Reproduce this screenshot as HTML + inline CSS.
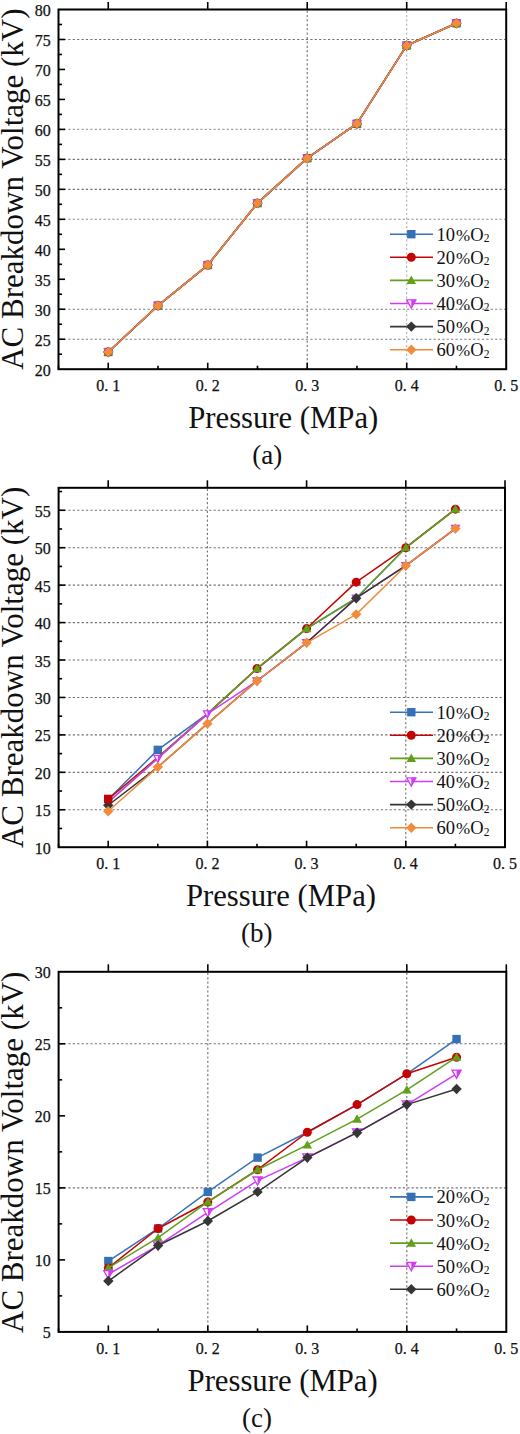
<!DOCTYPE html>
<html><head><meta charset="utf-8"><title>chart</title>
<style>html,body{margin:0;padding:0;background:#fff;}body{width:520px;height:1434px;overflow:hidden;font-family:"Liberation Serif", serif;}svg{display:block;}</style>
</head><body>
<svg width="520" height="1434" viewBox="0 0 520 1434" font-family='"Liberation Serif", serif'>
<rect width="520" height="1434" fill="#fff"/>
<line x1="59.5" y1="39.48" x2="505.2" y2="39.48" stroke="#707070" stroke-width="1.1" stroke-dasharray="2.2 2.2"/>
<line x1="59.5" y1="129.4" x2="505.2" y2="129.4" stroke="#a0a0a0" stroke-width="1.1" stroke-dasharray="2.2 2.2"/>
<line x1="59.5" y1="159.37" x2="505.2" y2="159.37" stroke="#707070" stroke-width="1.1" stroke-dasharray="2.2 2.2"/>
<line x1="59.5" y1="189.35" x2="505.2" y2="189.35" stroke="#707070" stroke-width="1.1" stroke-dasharray="2.2 2.2"/>
<line x1="59.5" y1="219.32" x2="505.2" y2="219.32" stroke="#8a8a8a" stroke-width="1.1" stroke-dasharray="2.2 2.2"/>
<line x1="59.5" y1="309.25" x2="505.2" y2="309.25" stroke="#7c7c7c" stroke-width="1.1" stroke-dasharray="2.2 2.2"/>
<line x1="59.5" y1="339.22" x2="505.2" y2="339.22" stroke="#7c7c7c" stroke-width="1.1" stroke-dasharray="2.2 2.2"/>
<line x1="307.22" y1="10.5" x2="307.22" y2="368.2" stroke="#707070" stroke-width="1.1" stroke-dasharray="2.2 2.2"/>
<line x1="406.71" y1="10.5" x2="406.71" y2="368.2" stroke="#b4b4b4" stroke-width="1.1" stroke-dasharray="2.2 2.2"/>
<line x1="390" y1="234.2" x2="433" y2="234.2" stroke="#3572b5" stroke-width="1.6"/>
<rect x="407.1" y="230" width="8.4" height="8.4" fill="#3572b5"/>
<text x="436.4" y="240.7" font-size="18.5" fill="#111">10<tspan dx="1.2" font-size="17">%</tspan><tspan dx="0">O</tspan><tspan font-size="11.5" dy="1.4">2</tspan></text>
<line x1="390" y1="257.3" x2="433" y2="257.3" stroke="#c40404" stroke-width="1.6"/>
<circle cx="411.3" cy="257.3" r="4.5" fill="#c40404"/>
<text x="436.4" y="263.8" font-size="18.5" fill="#111">20<tspan dx="1.2" font-size="17">%</tspan><tspan dx="0">O</tspan><tspan font-size="11.5" dy="1.4">2</tspan></text>
<line x1="390" y1="280.4" x2="433" y2="280.4" stroke="#62a01c" stroke-width="1.6"/>
<path d="M411.3 275.6L416.1 284L406.5 284Z" fill="#62a01c"/>
<text x="436.4" y="286.9" font-size="18.5" fill="#111">30<tspan dx="1.2" font-size="17">%</tspan><tspan dx="0">O</tspan><tspan font-size="11.5" dy="1.4">2</tspan></text>
<line x1="390" y1="303.5" x2="433" y2="303.5" stroke="#d03cf5" stroke-width="1.6"/>
<path d="M406.7 299.82L415.9 299.82L411.3 308.1Z" fill="#fff" stroke="#d03cf5" stroke-width="1.3"/><path d="M411.3 299.82L415.9 299.82L411.3 308.1Z" fill="#d03cf5"/>
<text x="436.4" y="310" font-size="18.5" fill="#111">40<tspan dx="1.2" font-size="17">%</tspan><tspan dx="0">O</tspan><tspan font-size="11.5" dy="1.4">2</tspan></text>
<line x1="390" y1="326.6" x2="433" y2="326.6" stroke="#363636" stroke-width="1.6"/>
<path d="M411.3 321.4L416.5 326.6L411.3 331.8L406.1 326.6Z" fill="#363636"/>
<text x="436.4" y="333.1" font-size="18.5" fill="#111">50<tspan dx="1.2" font-size="17">%</tspan><tspan dx="0">O</tspan><tspan font-size="11.5" dy="1.4">2</tspan></text>
<line x1="390" y1="349.7" x2="433" y2="349.7" stroke="#f08c3c" stroke-width="1.6"/>
<path d="M411.3 344.5L416.5 349.7L411.3 354.9L406.1 349.7Z" fill="#f08c3c"/>
<text x="436.4" y="356.2" font-size="18.5" fill="#111">60<tspan dx="1.2" font-size="17">%</tspan><tspan dx="0">O</tspan><tspan font-size="11.5" dy="1.4">2</tspan></text>
<polyline points="108.24,351.99 157.99,305.65 207.73,265.07 257.48,203.14 307.22,158.18 356.97,123.7 406.71,45.47 456.46,23.29" fill="none" stroke="#3572b5" stroke-width="1.5" stroke-linejoin="round"/>
<rect x="104.04" y="347.79" width="8.4" height="8.4" fill="#3572b5"/>
<rect x="153.79" y="301.45" width="8.4" height="8.4" fill="#3572b5"/>
<rect x="203.53" y="260.87" width="8.4" height="8.4" fill="#3572b5"/>
<rect x="253.28" y="198.94" width="8.4" height="8.4" fill="#3572b5"/>
<rect x="303.02" y="153.98" width="8.4" height="8.4" fill="#3572b5"/>
<rect x="352.77" y="119.5" width="8.4" height="8.4" fill="#3572b5"/>
<rect x="402.51" y="41.27" width="8.4" height="8.4" fill="#3572b5"/>
<rect x="452.26" y="19.09" width="8.4" height="8.4" fill="#3572b5"/>
<polyline points="108.24,351.99 157.99,305.65 207.73,265.07 257.48,203.14 307.22,158.18 356.97,123.7 406.71,45.47 456.46,23.29" fill="none" stroke="#c40404" stroke-width="1.5" stroke-linejoin="round"/>
<circle cx="108.24" cy="351.99" r="4.5" fill="#c40404"/>
<circle cx="157.99" cy="305.65" r="4.5" fill="#c40404"/>
<circle cx="207.73" cy="265.07" r="4.5" fill="#c40404"/>
<circle cx="257.48" cy="203.14" r="4.5" fill="#c40404"/>
<circle cx="307.22" cy="158.18" r="4.5" fill="#c40404"/>
<circle cx="356.97" cy="123.7" r="4.5" fill="#c40404"/>
<circle cx="406.71" cy="45.47" r="4.5" fill="#c40404"/>
<circle cx="456.46" cy="23.29" r="4.5" fill="#c40404"/>
<polyline points="108.24,351.99 157.99,305.65 207.73,265.07 257.48,203.14 307.22,158.18 356.97,123.7 406.71,45.47 456.46,23.29" fill="none" stroke="#62a01c" stroke-width="1.5" stroke-linejoin="round"/>
<path d="M108.24 347.19L113.04 355.59L103.44 355.59Z" fill="#62a01c"/>
<path d="M157.99 300.85L162.79 309.25L153.19 309.25Z" fill="#62a01c"/>
<path d="M207.73 260.27L212.53 268.67L202.93 268.67Z" fill="#62a01c"/>
<path d="M257.48 198.34L262.28 206.74L252.68 206.74Z" fill="#62a01c"/>
<path d="M307.22 153.38L312.02 161.78L302.42 161.78Z" fill="#62a01c"/>
<path d="M356.97 118.9L361.77 127.3L352.17 127.3Z" fill="#62a01c"/>
<path d="M406.71 40.67L411.51 49.07L401.91 49.07Z" fill="#62a01c"/>
<path d="M456.46 18.49L461.26 26.89L451.66 26.89Z" fill="#62a01c"/>
<polyline points="108.24,351.99 157.99,305.65 207.73,265.07 257.48,203.14 307.22,158.18 356.97,123.7 406.71,45.47 456.46,23.29" fill="none" stroke="#d03cf5" stroke-width="1.5" stroke-linejoin="round"/>
<path d="M104.33 348.87L112.15 348.87L108.24 355.9Z" fill="#fff" stroke="#d03cf5" stroke-width="1.3"/><path d="M108.24 348.87L112.15 348.87L108.24 355.9Z" fill="#d03cf5"/>
<path d="M154.08 302.52L161.9 302.52L157.99 309.56Z" fill="#fff" stroke="#d03cf5" stroke-width="1.3"/><path d="M157.99 302.52L161.9 302.52L157.99 309.56Z" fill="#d03cf5"/>
<path d="M203.82 261.94L211.64 261.94L207.73 268.98Z" fill="#fff" stroke="#d03cf5" stroke-width="1.3"/><path d="M207.73 261.94L211.64 261.94L207.73 268.98Z" fill="#d03cf5"/>
<path d="M253.57 200.01L261.39 200.01L257.48 207.05Z" fill="#fff" stroke="#d03cf5" stroke-width="1.3"/><path d="M257.48 200.01L261.39 200.01L257.48 207.05Z" fill="#d03cf5"/>
<path d="M303.31 155.05L311.13 155.05L307.22 162.09Z" fill="#fff" stroke="#d03cf5" stroke-width="1.3"/><path d="M307.22 155.05L311.13 155.05L307.22 162.09Z" fill="#d03cf5"/>
<path d="M353.06 120.58L360.88 120.58L356.97 127.61Z" fill="#fff" stroke="#d03cf5" stroke-width="1.3"/><path d="M356.97 120.58L360.88 120.58L356.97 127.61Z" fill="#d03cf5"/>
<path d="M402.8 42.34L410.62 42.34L406.71 49.38Z" fill="#fff" stroke="#d03cf5" stroke-width="1.3"/><path d="M406.71 42.34L410.62 42.34L406.71 49.38Z" fill="#d03cf5"/>
<path d="M452.55 20.16L460.37 20.16L456.46 27.2Z" fill="#fff" stroke="#d03cf5" stroke-width="1.3"/><path d="M456.46 20.16L460.37 20.16L456.46 27.2Z" fill="#d03cf5"/>
<polyline points="108.24,351.99 157.99,305.65 207.73,265.07 257.48,203.14 307.22,158.18 356.97,123.7 406.71,45.47 456.46,23.29" fill="none" stroke="#363636" stroke-width="1.5" stroke-linejoin="round"/>
<path d="M108.24 346.79L113.44 351.99L108.24 357.19L103.04 351.99Z" fill="#363636"/>
<path d="M157.99 300.45L163.19 305.65L157.99 310.85L152.79 305.65Z" fill="#363636"/>
<path d="M207.73 259.87L212.93 265.07L207.73 270.27L202.53 265.07Z" fill="#363636"/>
<path d="M257.48 197.94L262.68 203.14L257.48 208.34L252.28 203.14Z" fill="#363636"/>
<path d="M307.22 152.98L312.42 158.18L307.22 163.38L302.02 158.18Z" fill="#363636"/>
<path d="M356.97 118.5L362.17 123.7L356.97 128.9L351.77 123.7Z" fill="#363636"/>
<path d="M406.71 40.27L411.91 45.47L406.71 50.67L401.51 45.47Z" fill="#363636"/>
<path d="M456.46 18.09L461.66 23.29L456.46 28.49L451.26 23.29Z" fill="#363636"/>
<polyline points="108.24,351.99 157.99,305.65 207.73,265.07 257.48,203.14 307.22,158.18 356.97,123.7 406.71,45.47 456.46,23.29" fill="none" stroke="#f08c3c" stroke-width="1.5" stroke-linejoin="round"/>
<path d="M108.24 346.79L113.44 351.99L108.24 357.19L103.04 351.99Z" fill="#f08c3c"/>
<path d="M157.99 300.45L163.19 305.65L157.99 310.85L152.79 305.65Z" fill="#f08c3c"/>
<path d="M207.73 259.87L212.93 265.07L207.73 270.27L202.53 265.07Z" fill="#f08c3c"/>
<path d="M257.48 197.94L262.68 203.14L257.48 208.34L252.28 203.14Z" fill="#f08c3c"/>
<path d="M307.22 152.98L312.42 158.18L307.22 163.38L302.02 158.18Z" fill="#f08c3c"/>
<path d="M356.97 118.5L362.17 123.7L356.97 128.9L351.77 123.7Z" fill="#f08c3c"/>
<path d="M406.71 40.27L411.91 45.47L406.71 50.67L401.51 45.47Z" fill="#f08c3c"/>
<path d="M456.46 18.09L461.66 23.29L456.46 28.49L451.26 23.29Z" fill="#f08c3c"/>
<rect x="58.5" y="9.5" width="447.7" height="359.7" fill="none" stroke="#000" stroke-width="2"/>
<text x="50.8" y="375.7" font-size="16" text-anchor="end" fill="#111" stroke="#111" stroke-width="0.25">20</text>
<line x1="58.5" y1="354.21" x2="62" y2="354.21" stroke="#000" stroke-width="1.6"/>
<line x1="58.5" y1="339.22" x2="65" y2="339.22" stroke="#000" stroke-width="1.6"/>
<text x="50.8" y="345.72" font-size="16" text-anchor="end" fill="#111" stroke="#111" stroke-width="0.25">25</text>
<line x1="58.5" y1="324.24" x2="62" y2="324.24" stroke="#000" stroke-width="1.6"/>
<line x1="58.5" y1="309.25" x2="65" y2="309.25" stroke="#000" stroke-width="1.6"/>
<text x="50.8" y="315.75" font-size="16" text-anchor="end" fill="#111" stroke="#111" stroke-width="0.25">30</text>
<line x1="58.5" y1="294.26" x2="62" y2="294.26" stroke="#000" stroke-width="1.6"/>
<line x1="58.5" y1="279.27" x2="65" y2="279.27" stroke="#000" stroke-width="1.6"/>
<text x="50.8" y="285.77" font-size="16" text-anchor="end" fill="#111" stroke="#111" stroke-width="0.25">35</text>
<line x1="58.5" y1="264.29" x2="62" y2="264.29" stroke="#000" stroke-width="1.6"/>
<line x1="58.5" y1="249.3" x2="65" y2="249.3" stroke="#000" stroke-width="1.6"/>
<text x="50.8" y="255.8" font-size="16" text-anchor="end" fill="#111" stroke="#111" stroke-width="0.25">40</text>
<line x1="58.5" y1="234.31" x2="62" y2="234.31" stroke="#000" stroke-width="1.6"/>
<line x1="58.5" y1="219.32" x2="65" y2="219.32" stroke="#000" stroke-width="1.6"/>
<text x="50.8" y="225.82" font-size="16" text-anchor="end" fill="#111" stroke="#111" stroke-width="0.25">45</text>
<line x1="58.5" y1="204.34" x2="62" y2="204.34" stroke="#000" stroke-width="1.6"/>
<line x1="58.5" y1="189.35" x2="65" y2="189.35" stroke="#000" stroke-width="1.6"/>
<text x="50.8" y="195.85" font-size="16" text-anchor="end" fill="#111" stroke="#111" stroke-width="0.25">50</text>
<line x1="58.5" y1="174.36" x2="62" y2="174.36" stroke="#000" stroke-width="1.6"/>
<line x1="58.5" y1="159.37" x2="65" y2="159.37" stroke="#000" stroke-width="1.6"/>
<text x="50.8" y="165.87" font-size="16" text-anchor="end" fill="#111" stroke="#111" stroke-width="0.25">55</text>
<line x1="58.5" y1="144.39" x2="62" y2="144.39" stroke="#000" stroke-width="1.6"/>
<line x1="58.5" y1="129.4" x2="65" y2="129.4" stroke="#000" stroke-width="1.6"/>
<text x="50.8" y="135.9" font-size="16" text-anchor="end" fill="#111" stroke="#111" stroke-width="0.25">60</text>
<line x1="58.5" y1="114.41" x2="62" y2="114.41" stroke="#000" stroke-width="1.6"/>
<line x1="58.5" y1="99.43" x2="65" y2="99.43" stroke="#000" stroke-width="1.6"/>
<text x="50.8" y="105.93" font-size="16" text-anchor="end" fill="#111" stroke="#111" stroke-width="0.25">65</text>
<line x1="58.5" y1="84.44" x2="62" y2="84.44" stroke="#000" stroke-width="1.6"/>
<line x1="58.5" y1="69.45" x2="65" y2="69.45" stroke="#000" stroke-width="1.6"/>
<text x="50.8" y="75.95" font-size="16" text-anchor="end" fill="#111" stroke="#111" stroke-width="0.25">70</text>
<line x1="58.5" y1="54.46" x2="62" y2="54.46" stroke="#000" stroke-width="1.6"/>
<line x1="58.5" y1="39.48" x2="65" y2="39.48" stroke="#000" stroke-width="1.6"/>
<text x="50.8" y="45.98" font-size="16" text-anchor="end" fill="#111" stroke="#111" stroke-width="0.25">75</text>
<line x1="58.5" y1="24.49" x2="62" y2="24.49" stroke="#000" stroke-width="1.6"/>
<text x="50.8" y="16" font-size="16" text-anchor="end" fill="#111" stroke="#111" stroke-width="0.25">80</text>
<line x1="58.5" y1="369.2" x2="58.5" y2="365.7" stroke="#000" stroke-width="1.6"/>
<line x1="108.24" y1="369.2" x2="108.24" y2="362.7" stroke="#000" stroke-width="1.6"/>
<line x1="108.24" y1="9.5" x2="108.24" y2="2" stroke="#000" stroke-width="1.6"/>
<text x="108.24" y="390.9" font-size="16" text-anchor="middle" fill="#111" stroke="#111" stroke-width="0.25">0. 1</text>
<line x1="157.99" y1="369.2" x2="157.99" y2="365.7" stroke="#000" stroke-width="1.6"/>
<line x1="207.73" y1="369.2" x2="207.73" y2="362.7" stroke="#000" stroke-width="1.6"/>
<line x1="207.73" y1="9.5" x2="207.73" y2="2" stroke="#000" stroke-width="1.6"/>
<text x="207.73" y="390.9" font-size="16" text-anchor="middle" fill="#111" stroke="#111" stroke-width="0.25">0. 2</text>
<line x1="257.48" y1="369.2" x2="257.48" y2="365.7" stroke="#000" stroke-width="1.6"/>
<line x1="307.22" y1="369.2" x2="307.22" y2="362.7" stroke="#000" stroke-width="1.6"/>
<line x1="307.22" y1="9.5" x2="307.22" y2="2" stroke="#000" stroke-width="1.6"/>
<text x="307.22" y="390.9" font-size="16" text-anchor="middle" fill="#111" stroke="#111" stroke-width="0.25">0. 3</text>
<line x1="356.97" y1="369.2" x2="356.97" y2="365.7" stroke="#000" stroke-width="1.6"/>
<line x1="406.71" y1="369.2" x2="406.71" y2="362.7" stroke="#000" stroke-width="1.6"/>
<line x1="406.71" y1="9.5" x2="406.71" y2="2" stroke="#000" stroke-width="1.6"/>
<text x="406.71" y="390.9" font-size="16" text-anchor="middle" fill="#111" stroke="#111" stroke-width="0.25">0. 4</text>
<line x1="456.46" y1="369.2" x2="456.46" y2="365.7" stroke="#000" stroke-width="1.6"/>
<line x1="506.2" y1="9.5" x2="506.2" y2="2" stroke="#000" stroke-width="1.6"/>
<text x="506.2" y="390.9" font-size="16" text-anchor="middle" fill="#111" stroke="#111" stroke-width="0.25">0. 5</text>
<text x="283.25" y="428.1" font-size="30.7" text-anchor="middle" fill="#111">Pressure (MPa)</text>
<text transform="translate(22.6 189.1) rotate(-90)" font-size="31" text-anchor="middle" fill="#111">AC Breakdown Voltage (kV)</text>
<text x="267.2" y="464.2" font-size="27" text-anchor="middle" fill="#111">(a)</text>
<line x1="59.6" y1="809.76" x2="504" y2="809.76" stroke="#707070" stroke-width="1.1" stroke-dasharray="2.2 2.2"/>
<line x1="59.6" y1="772.33" x2="504" y2="772.33" stroke="#707070" stroke-width="1.1" stroke-dasharray="2.2 2.2"/>
<line x1="59.6" y1="734.89" x2="504" y2="734.89" stroke="#707070" stroke-width="1.1" stroke-dasharray="2.2 2.2"/>
<line x1="59.6" y1="697.45" x2="504" y2="697.45" stroke="#707070" stroke-width="1.1" stroke-dasharray="2.2 2.2"/>
<line x1="59.6" y1="660.01" x2="504" y2="660.01" stroke="#707070" stroke-width="1.1" stroke-dasharray="2.2 2.2"/>
<line x1="59.6" y1="622.58" x2="504" y2="622.58" stroke="#707070" stroke-width="1.1" stroke-dasharray="2.2 2.2"/>
<line x1="59.6" y1="585.14" x2="504" y2="585.14" stroke="#707070" stroke-width="1.1" stroke-dasharray="2.2 2.2"/>
<line x1="59.6" y1="547.7" x2="504" y2="547.7" stroke="#707070" stroke-width="1.1" stroke-dasharray="2.2 2.2"/>
<line x1="59.6" y1="510.26" x2="504" y2="510.26" stroke="#707070" stroke-width="1.1" stroke-dasharray="2.2 2.2"/>
<line x1="207.4" y1="488.8" x2="207.4" y2="846.2" stroke="#707070" stroke-width="1.1" stroke-dasharray="2.2 2.2"/>
<line x1="405.8" y1="488.8" x2="405.8" y2="846.2" stroke="#707070" stroke-width="1.1" stroke-dasharray="2.2 2.2"/>
<line x1="390" y1="712.2" x2="433" y2="712.2" stroke="#3572b5" stroke-width="1.6"/>
<rect x="407.1" y="708" width="8.4" height="8.4" fill="#3572b5"/>
<text x="436.4" y="718.7" font-size="18.5" fill="#111">10<tspan dx="1.2" font-size="17">%</tspan><tspan dx="0">O</tspan><tspan font-size="11.5" dy="1.4">2</tspan></text>
<line x1="390" y1="735.3" x2="433" y2="735.3" stroke="#c40404" stroke-width="1.6"/>
<circle cx="411.3" cy="735.3" r="4.5" fill="#c40404"/>
<text x="436.4" y="741.8" font-size="18.5" fill="#111">20<tspan dx="1.2" font-size="17">%</tspan><tspan dx="0">O</tspan><tspan font-size="11.5" dy="1.4">2</tspan></text>
<line x1="390" y1="758.4" x2="433" y2="758.4" stroke="#62a01c" stroke-width="1.6"/>
<path d="M411.3 753.6L416.1 762L406.5 762Z" fill="#62a01c"/>
<text x="436.4" y="764.9" font-size="18.5" fill="#111">30<tspan dx="1.2" font-size="17">%</tspan><tspan dx="0">O</tspan><tspan font-size="11.5" dy="1.4">2</tspan></text>
<line x1="390" y1="781.5" x2="433" y2="781.5" stroke="#d03cf5" stroke-width="1.6"/>
<path d="M406.7 777.82L415.9 777.82L411.3 786.1Z" fill="#fff" stroke="#d03cf5" stroke-width="1.3"/><path d="M411.3 777.82L415.9 777.82L411.3 786.1Z" fill="#d03cf5"/>
<text x="436.4" y="788" font-size="18.5" fill="#111">40<tspan dx="1.2" font-size="17">%</tspan><tspan dx="0">O</tspan><tspan font-size="11.5" dy="1.4">2</tspan></text>
<line x1="390" y1="804.6" x2="433" y2="804.6" stroke="#363636" stroke-width="1.6"/>
<path d="M411.3 799.4L416.5 804.6L411.3 809.8L406.1 804.6Z" fill="#363636"/>
<text x="436.4" y="811.1" font-size="18.5" fill="#111">50<tspan dx="1.2" font-size="17">%</tspan><tspan dx="0">O</tspan><tspan font-size="11.5" dy="1.4">2</tspan></text>
<line x1="390" y1="827.7" x2="433" y2="827.7" stroke="#f08c3c" stroke-width="1.6"/>
<path d="M411.3 822.5L416.5 827.7L411.3 832.9L406.1 827.7Z" fill="#f08c3c"/>
<text x="436.4" y="834.2" font-size="18.5" fill="#111">60<tspan dx="1.2" font-size="17">%</tspan><tspan dx="0">O</tspan><tspan font-size="11.5" dy="1.4">2</tspan></text>
<polyline points="108.2,799.28 157.8,749.86 207.4,713.92 257,668.62 306.6,628.57 356.2,598.24 405.8,547.7 455.4,509.14" fill="none" stroke="#3572b5" stroke-width="1.5" stroke-linejoin="round"/>
<rect x="153.6" y="745.66" width="8.4" height="8.4" fill="#3572b5"/>
<polyline points="108.2,799.28 157.8,757.35 207.4,713.92 257,668.62 306.6,628.57 356.2,582.14 405.8,547.7 455.4,509.14" fill="none" stroke="#c40404" stroke-width="1.5" stroke-linejoin="round"/>
<circle cx="257" cy="668.62" r="4.5" fill="#c40404"/>
<circle cx="306.6" cy="628.57" r="4.5" fill="#c40404"/>
<circle cx="356.2" cy="582.14" r="4.5" fill="#c40404"/>
<circle cx="405.8" cy="547.7" r="4.5" fill="#c40404"/>
<circle cx="455.4" cy="509.14" r="4.5" fill="#c40404"/>
<polyline points="108.2,802.28 157.8,758.1 207.4,713.92 257,668.62 306.6,628.57 356.2,598.24 405.8,547.7 455.4,509.14" fill="none" stroke="#62a01c" stroke-width="1.5" stroke-linejoin="round"/>
<path d="M257 663.82L261.8 672.22L252.2 672.22Z" fill="#62a01c"/>
<path d="M306.6 623.77L311.4 632.17L301.8 632.17Z" fill="#62a01c"/>
<path d="M405.8 542.9L410.6 551.3L401 551.3Z" fill="#62a01c"/>
<path d="M455.4 504.34L460.2 512.74L450.6 512.74Z" fill="#62a01c"/>
<polyline points="108.2,802.28 157.8,758.47 207.4,713.92 257,680.98 306.6,642.79 356.2,598.24 405.8,565.67 455.4,528.61" fill="none" stroke="#d03cf5" stroke-width="1.5" stroke-linejoin="round"/>
<path d="M153.89 755.35L161.71 755.35L157.8 762.38Z" fill="#fff" stroke="#d03cf5" stroke-width="1.3"/><path d="M157.8 755.35L161.71 755.35L157.8 762.38Z" fill="#d03cf5"/>
<path d="M203.49 710.79L211.31 710.79L207.4 717.83Z" fill="#fff" stroke="#d03cf5" stroke-width="1.3"/><path d="M207.4 710.79L211.31 710.79L207.4 717.83Z" fill="#d03cf5"/>
<path d="M253.09 677.85L260.91 677.85L257 684.89Z" fill="#fff" stroke="#d03cf5" stroke-width="1.3"/><path d="M257 677.85L260.91 677.85L257 684.89Z" fill="#d03cf5"/>
<path d="M302.69 639.66L310.51 639.66L306.6 646.7Z" fill="#fff" stroke="#d03cf5" stroke-width="1.3"/><path d="M306.6 639.66L310.51 639.66L306.6 646.7Z" fill="#d03cf5"/>
<path d="M352.29 595.11L360.11 595.11L356.2 602.15Z" fill="#fff" stroke="#d03cf5" stroke-width="1.3"/><path d="M356.2 595.11L360.11 595.11L356.2 602.15Z" fill="#d03cf5"/>
<path d="M401.89 562.54L409.71 562.54L405.8 569.58Z" fill="#fff" stroke="#d03cf5" stroke-width="1.3"/><path d="M405.8 562.54L409.71 562.54L405.8 569.58Z" fill="#d03cf5"/>
<path d="M451.49 525.48L459.31 525.48L455.4 532.52Z" fill="#fff" stroke="#d03cf5" stroke-width="1.3"/><path d="M455.4 525.48L459.31 525.48L455.4 532.52Z" fill="#d03cf5"/>
<polyline points="108.2,805.27 157.8,767.08 207.4,723.66 257,680.98 306.6,642.79 356.2,598.24 405.8,565.67 455.4,528.61" fill="none" stroke="#363636" stroke-width="1.5" stroke-linejoin="round"/>
<path d="M108.2 800.07L113.4 805.27L108.2 810.47L103 805.27Z" fill="#363636"/>
<path d="M356.2 593.04L361.4 598.24L356.2 603.44L351 598.24Z" fill="#363636"/>
<polyline points="108.2,811.26 157.8,767.08 207.4,723.66 257,680.98 306.6,642.79 356.2,614.34 405.8,565.67 455.4,528.61" fill="none" stroke="#f08c3c" stroke-width="1.5" stroke-linejoin="round"/>
<path d="M108.2 806.06L113.4 811.26L108.2 816.46L103 811.26Z" fill="#f08c3c"/>
<path d="M157.8 761.88L163 767.08L157.8 772.28L152.6 767.08Z" fill="#f08c3c"/>
<path d="M207.4 718.46L212.6 723.66L207.4 728.86L202.2 723.66Z" fill="#f08c3c"/>
<path d="M257 675.78L262.2 680.98L257 686.18L251.8 680.98Z" fill="#f08c3c"/>
<path d="M306.6 637.59L311.8 642.79L306.6 647.99L301.4 642.79Z" fill="#f08c3c"/>
<path d="M356.2 609.14L361.4 614.34L356.2 619.54L351 614.34Z" fill="#f08c3c"/>
<path d="M405.8 560.47L411 565.67L405.8 570.87L400.6 565.67Z" fill="#f08c3c"/>
<path d="M455.4 523.41L460.6 528.61L455.4 533.81L450.2 528.61Z" fill="#f08c3c"/>
<rect x="104" y="794.71" width="8.4" height="8.4" fill="#c40404"/>
<rect x="58.6" y="487.8" width="446.4" height="359.4" fill="none" stroke="#000" stroke-width="2"/>
<text x="50.8" y="853.7" font-size="16" text-anchor="end" fill="#111" stroke="#111" stroke-width="0.25">10</text>
<line x1="58.6" y1="828.48" x2="62.1" y2="828.48" stroke="#000" stroke-width="1.6"/>
<line x1="58.6" y1="809.76" x2="65.1" y2="809.76" stroke="#000" stroke-width="1.6"/>
<text x="50.8" y="816.26" font-size="16" text-anchor="end" fill="#111" stroke="#111" stroke-width="0.25">15</text>
<line x1="58.6" y1="791.04" x2="62.1" y2="791.04" stroke="#000" stroke-width="1.6"/>
<line x1="58.6" y1="772.33" x2="65.1" y2="772.33" stroke="#000" stroke-width="1.6"/>
<text x="50.8" y="778.83" font-size="16" text-anchor="end" fill="#111" stroke="#111" stroke-width="0.25">20</text>
<line x1="58.6" y1="753.61" x2="62.1" y2="753.61" stroke="#000" stroke-width="1.6"/>
<line x1="58.6" y1="734.89" x2="65.1" y2="734.89" stroke="#000" stroke-width="1.6"/>
<text x="50.8" y="741.39" font-size="16" text-anchor="end" fill="#111" stroke="#111" stroke-width="0.25">25</text>
<line x1="58.6" y1="716.17" x2="62.1" y2="716.17" stroke="#000" stroke-width="1.6"/>
<line x1="58.6" y1="697.45" x2="65.1" y2="697.45" stroke="#000" stroke-width="1.6"/>
<text x="50.8" y="703.95" font-size="16" text-anchor="end" fill="#111" stroke="#111" stroke-width="0.25">30</text>
<line x1="58.6" y1="678.73" x2="62.1" y2="678.73" stroke="#000" stroke-width="1.6"/>
<line x1="58.6" y1="660.01" x2="65.1" y2="660.01" stroke="#000" stroke-width="1.6"/>
<text x="50.8" y="666.51" font-size="16" text-anchor="end" fill="#111" stroke="#111" stroke-width="0.25">35</text>
<line x1="58.6" y1="641.29" x2="62.1" y2="641.29" stroke="#000" stroke-width="1.6"/>
<line x1="58.6" y1="622.58" x2="65.1" y2="622.58" stroke="#000" stroke-width="1.6"/>
<text x="50.8" y="629.08" font-size="16" text-anchor="end" fill="#111" stroke="#111" stroke-width="0.25">40</text>
<line x1="58.6" y1="603.86" x2="62.1" y2="603.86" stroke="#000" stroke-width="1.6"/>
<line x1="58.6" y1="585.14" x2="65.1" y2="585.14" stroke="#000" stroke-width="1.6"/>
<text x="50.8" y="591.64" font-size="16" text-anchor="end" fill="#111" stroke="#111" stroke-width="0.25">45</text>
<line x1="58.6" y1="566.42" x2="62.1" y2="566.42" stroke="#000" stroke-width="1.6"/>
<line x1="58.6" y1="547.7" x2="65.1" y2="547.7" stroke="#000" stroke-width="1.6"/>
<text x="50.8" y="554.2" font-size="16" text-anchor="end" fill="#111" stroke="#111" stroke-width="0.25">50</text>
<line x1="58.6" y1="528.98" x2="62.1" y2="528.98" stroke="#000" stroke-width="1.6"/>
<line x1="58.6" y1="510.26" x2="65.1" y2="510.26" stroke="#000" stroke-width="1.6"/>
<text x="50.8" y="516.76" font-size="16" text-anchor="end" fill="#111" stroke="#111" stroke-width="0.25">55</text>
<line x1="58.6" y1="491.54" x2="62.1" y2="491.54" stroke="#000" stroke-width="1.6"/>
<line x1="58.6" y1="847.2" x2="58.6" y2="843.7" stroke="#000" stroke-width="1.6"/>
<line x1="108.2" y1="847.2" x2="108.2" y2="840.7" stroke="#000" stroke-width="1.6"/>
<line x1="108.2" y1="487.8" x2="108.2" y2="480.3" stroke="#000" stroke-width="1.6"/>
<text x="108.2" y="868.9" font-size="16" text-anchor="middle" fill="#111" stroke="#111" stroke-width="0.25">0. 1</text>
<line x1="157.8" y1="847.2" x2="157.8" y2="843.7" stroke="#000" stroke-width="1.6"/>
<line x1="207.4" y1="847.2" x2="207.4" y2="840.7" stroke="#000" stroke-width="1.6"/>
<line x1="207.4" y1="487.8" x2="207.4" y2="480.3" stroke="#000" stroke-width="1.6"/>
<text x="207.4" y="868.9" font-size="16" text-anchor="middle" fill="#111" stroke="#111" stroke-width="0.25">0. 2</text>
<line x1="257" y1="847.2" x2="257" y2="843.7" stroke="#000" stroke-width="1.6"/>
<line x1="306.6" y1="847.2" x2="306.6" y2="840.7" stroke="#000" stroke-width="1.6"/>
<line x1="306.6" y1="487.8" x2="306.6" y2="480.3" stroke="#000" stroke-width="1.6"/>
<text x="306.6" y="868.9" font-size="16" text-anchor="middle" fill="#111" stroke="#111" stroke-width="0.25">0. 3</text>
<line x1="356.2" y1="847.2" x2="356.2" y2="843.7" stroke="#000" stroke-width="1.6"/>
<line x1="405.8" y1="847.2" x2="405.8" y2="840.7" stroke="#000" stroke-width="1.6"/>
<line x1="405.8" y1="487.8" x2="405.8" y2="480.3" stroke="#000" stroke-width="1.6"/>
<text x="405.8" y="868.9" font-size="16" text-anchor="middle" fill="#111" stroke="#111" stroke-width="0.25">0. 4</text>
<line x1="455.4" y1="847.2" x2="455.4" y2="843.7" stroke="#000" stroke-width="1.6"/>
<line x1="505" y1="487.8" x2="505" y2="480.3" stroke="#000" stroke-width="1.6"/>
<text x="505" y="868.9" font-size="16" text-anchor="middle" fill="#111" stroke="#111" stroke-width="0.25">0. 5</text>
<text x="280.95" y="906.1" font-size="30.7" text-anchor="middle" fill="#111">Pressure (MPa)</text>
<text transform="translate(22.6 667.4) rotate(-90)" font-size="31" text-anchor="middle" fill="#111">AC Breakdown Voltage (kV)</text>
<text x="256.7" y="942.2" font-size="27" text-anchor="middle" fill="#111">(b)</text>
<line x1="59.6" y1="1043.82" x2="505.3" y2="1043.82" stroke="#707070" stroke-width="1.1" stroke-dasharray="2.2 2.2"/>
<line x1="59.6" y1="1187.86" x2="505.3" y2="1187.86" stroke="#707070" stroke-width="1.1" stroke-dasharray="2.2 2.2"/>
<line x1="207.83" y1="972.8" x2="207.83" y2="1330.9" stroke="#707070" stroke-width="1.1" stroke-dasharray="2.2 2.2"/>
<line x1="406.81" y1="972.8" x2="406.81" y2="1330.9" stroke="#707070" stroke-width="1.1" stroke-dasharray="2.2 2.2"/>
<line x1="390" y1="1196.9" x2="433" y2="1196.9" stroke="#3572b5" stroke-width="1.6"/>
<rect x="407.1" y="1192.7" width="8.4" height="8.4" fill="#3572b5"/>
<text x="436.4" y="1203.4" font-size="18.5" fill="#111">20<tspan dx="1.2" font-size="17">%</tspan><tspan dx="0">O</tspan><tspan font-size="11.5" dy="1.4">2</tspan></text>
<line x1="390" y1="1220" x2="433" y2="1220" stroke="#c40404" stroke-width="1.6"/>
<circle cx="411.3" cy="1220" r="4.5" fill="#c40404"/>
<text x="436.4" y="1226.5" font-size="18.5" fill="#111">30<tspan dx="1.2" font-size="17">%</tspan><tspan dx="0">O</tspan><tspan font-size="11.5" dy="1.4">2</tspan></text>
<line x1="390" y1="1243.1" x2="433" y2="1243.1" stroke="#62a01c" stroke-width="1.6"/>
<path d="M411.3 1238.3L416.1 1246.7L406.5 1246.7Z" fill="#62a01c"/>
<text x="436.4" y="1249.6" font-size="18.5" fill="#111">40<tspan dx="1.2" font-size="17">%</tspan><tspan dx="0">O</tspan><tspan font-size="11.5" dy="1.4">2</tspan></text>
<line x1="390" y1="1266.2" x2="433" y2="1266.2" stroke="#d03cf5" stroke-width="1.6"/>
<path d="M406.7 1262.52L415.9 1262.52L411.3 1270.8Z" fill="#fff" stroke="#d03cf5" stroke-width="1.3"/><path d="M411.3 1262.52L415.9 1262.52L411.3 1270.8Z" fill="#d03cf5"/>
<text x="436.4" y="1272.7" font-size="18.5" fill="#111">50<tspan dx="1.2" font-size="17">%</tspan><tspan dx="0">O</tspan><tspan font-size="11.5" dy="1.4">2</tspan></text>
<line x1="390" y1="1289.3" x2="433" y2="1289.3" stroke="#363636" stroke-width="1.6"/>
<path d="M411.3 1284.1L416.5 1289.3L411.3 1294.5L406.1 1289.3Z" fill="#363636"/>
<text x="436.4" y="1295.8" font-size="18.5" fill="#111">60<tspan dx="1.2" font-size="17">%</tspan><tspan dx="0">O</tspan><tspan font-size="11.5" dy="1.4">2</tspan></text>
<polyline points="108.34,1261.03 158.09,1228.48 207.83,1191.89 257.58,1157.61 307.32,1132.26 357.07,1104.6 406.81,1073.78 456.56,1039.07" fill="none" stroke="#3572b5" stroke-width="1.5" stroke-linejoin="round"/>
<rect x="104.14" y="1256.83" width="8.4" height="8.4" fill="#3572b5"/>
<rect x="153.89" y="1224.28" width="8.4" height="8.4" fill="#3572b5"/>
<rect x="203.63" y="1187.69" width="8.4" height="8.4" fill="#3572b5"/>
<rect x="253.38" y="1153.41" width="8.4" height="8.4" fill="#3572b5"/>
<rect x="452.36" y="1034.87" width="8.4" height="8.4" fill="#3572b5"/>
<polyline points="108.34,1267.95 158.09,1228.48 207.83,1201.98 257.58,1169.71 307.32,1132.26 357.07,1104.6 406.81,1073.78 456.56,1057.22" fill="none" stroke="#c40404" stroke-width="1.5" stroke-linejoin="round"/>
<circle cx="108.34" cy="1267.95" r="4.5" fill="#c40404"/>
<circle cx="158.09" cy="1228.48" r="4.5" fill="#c40404"/>
<circle cx="207.83" cy="1201.98" r="4.5" fill="#c40404"/>
<circle cx="257.58" cy="1169.71" r="4.5" fill="#c40404"/>
<circle cx="307.32" cy="1132.26" r="4.5" fill="#c40404"/>
<circle cx="357.07" cy="1104.6" r="4.5" fill="#c40404"/>
<circle cx="406.81" cy="1073.78" r="4.5" fill="#c40404"/>
<circle cx="456.56" cy="1057.22" r="4.5" fill="#c40404"/>
<polyline points="108.34,1267.95 158.09,1237.7 207.83,1201.98 257.58,1169.71 307.32,1144.94 357.07,1119.15 406.81,1089.91 456.56,1057.22" fill="none" stroke="#62a01c" stroke-width="1.5" stroke-linejoin="round"/>
<path d="M108.34 1263.15L113.14 1271.55L103.54 1271.55Z" fill="#62a01c"/>
<path d="M158.09 1232.9L162.89 1241.3L153.29 1241.3Z" fill="#62a01c"/>
<path d="M207.83 1197.18L212.63 1205.58L203.03 1205.58Z" fill="#62a01c"/>
<path d="M257.58 1164.91L262.38 1173.31L252.78 1173.31Z" fill="#62a01c"/>
<path d="M307.32 1140.14L312.12 1148.54L302.52 1148.54Z" fill="#62a01c"/>
<path d="M357.07 1114.35L361.87 1122.75L352.27 1122.75Z" fill="#62a01c"/>
<path d="M406.81 1085.11L411.61 1093.51L402.01 1093.51Z" fill="#62a01c"/>
<path d="M456.56 1052.42L461.36 1060.82L451.76 1060.82Z" fill="#62a01c"/>
<polyline points="108.34,1274.28 158.09,1245.48 207.83,1212.35 257.58,1180.66 307.32,1157.61 357.07,1132.69 406.81,1104.6 456.56,1073.78" fill="none" stroke="#d03cf5" stroke-width="1.5" stroke-linejoin="round"/>
<path d="M103.74 1270.6L112.94 1270.6L108.34 1278.88Z" fill="#fff" stroke="#d03cf5" stroke-width="1.3"/><path d="M108.34 1270.6L112.94 1270.6L108.34 1278.88Z" fill="#d03cf5"/>
<path d="M153.49 1241.8L162.69 1241.8L158.09 1250.08Z" fill="#fff" stroke="#d03cf5" stroke-width="1.3"/><path d="M158.09 1241.8L162.69 1241.8L158.09 1250.08Z" fill="#d03cf5"/>
<path d="M203.23 1208.67L212.43 1208.67L207.83 1216.95Z" fill="#fff" stroke="#d03cf5" stroke-width="1.3"/><path d="M207.83 1208.67L212.43 1208.67L207.83 1216.95Z" fill="#d03cf5"/>
<path d="M252.98 1176.98L262.18 1176.98L257.58 1185.26Z" fill="#fff" stroke="#d03cf5" stroke-width="1.3"/><path d="M257.58 1176.98L262.18 1176.98L257.58 1185.26Z" fill="#d03cf5"/>
<path d="M302.72 1153.93L311.92 1153.93L307.32 1162.21Z" fill="#fff" stroke="#d03cf5" stroke-width="1.3"/><path d="M307.32 1153.93L311.92 1153.93L307.32 1162.21Z" fill="#d03cf5"/>
<path d="M352.47 1129.01L361.67 1129.01L357.07 1137.29Z" fill="#fff" stroke="#d03cf5" stroke-width="1.3"/><path d="M357.07 1129.01L361.67 1129.01L357.07 1137.29Z" fill="#d03cf5"/>
<path d="M402.21 1100.92L411.41 1100.92L406.81 1109.2Z" fill="#fff" stroke="#d03cf5" stroke-width="1.3"/><path d="M406.81 1100.92L411.41 1100.92L406.81 1109.2Z" fill="#d03cf5"/>
<path d="M451.96 1070.1L461.16 1070.1L456.56 1078.38Z" fill="#fff" stroke="#d03cf5" stroke-width="1.3"/><path d="M456.56 1070.1L461.16 1070.1L456.56 1078.38Z" fill="#d03cf5"/>
<polyline points="108.34,1281.05 158.09,1245.48 207.83,1220.99 257.58,1191.89 307.32,1157.61 357.07,1132.69 406.81,1104.6 456.56,1089.05" fill="none" stroke="#363636" stroke-width="1.5" stroke-linejoin="round"/>
<path d="M108.34 1275.85L113.54 1281.05L108.34 1286.25L103.14 1281.05Z" fill="#363636"/>
<path d="M158.09 1240.28L163.29 1245.48L158.09 1250.68L152.89 1245.48Z" fill="#363636"/>
<path d="M207.83 1215.79L213.03 1220.99L207.83 1226.19L202.63 1220.99Z" fill="#363636"/>
<path d="M257.58 1186.69L262.78 1191.89L257.58 1197.09L252.38 1191.89Z" fill="#363636"/>
<path d="M307.32 1152.41L312.52 1157.61L307.32 1162.81L302.12 1157.61Z" fill="#363636"/>
<path d="M357.07 1127.49L362.27 1132.69L357.07 1137.89L351.87 1132.69Z" fill="#363636"/>
<path d="M406.81 1099.4L412.01 1104.6L406.81 1109.8L401.61 1104.6Z" fill="#363636"/>
<path d="M456.56 1083.85L461.76 1089.05L456.56 1094.25L451.36 1089.05Z" fill="#363636"/>
<rect x="58.6" y="971.8" width="447.7" height="360.1" fill="none" stroke="#000" stroke-width="2"/>
<text x="50.8" y="1338.4" font-size="16" text-anchor="end" fill="#111" stroke="#111" stroke-width="0.25">5</text>
<line x1="58.6" y1="1295.89" x2="62.1" y2="1295.89" stroke="#000" stroke-width="1.6"/>
<line x1="58.6" y1="1259.88" x2="65.1" y2="1259.88" stroke="#000" stroke-width="1.6"/>
<text x="50.8" y="1266.38" font-size="16" text-anchor="end" fill="#111" stroke="#111" stroke-width="0.25">10</text>
<line x1="58.6" y1="1223.87" x2="62.1" y2="1223.87" stroke="#000" stroke-width="1.6"/>
<line x1="58.6" y1="1187.86" x2="65.1" y2="1187.86" stroke="#000" stroke-width="1.6"/>
<text x="50.8" y="1194.36" font-size="16" text-anchor="end" fill="#111" stroke="#111" stroke-width="0.25">15</text>
<line x1="58.6" y1="1151.85" x2="62.1" y2="1151.85" stroke="#000" stroke-width="1.6"/>
<line x1="58.6" y1="1115.84" x2="65.1" y2="1115.84" stroke="#000" stroke-width="1.6"/>
<text x="50.8" y="1122.34" font-size="16" text-anchor="end" fill="#111" stroke="#111" stroke-width="0.25">20</text>
<line x1="58.6" y1="1079.83" x2="62.1" y2="1079.83" stroke="#000" stroke-width="1.6"/>
<line x1="58.6" y1="1043.82" x2="65.1" y2="1043.82" stroke="#000" stroke-width="1.6"/>
<text x="50.8" y="1050.32" font-size="16" text-anchor="end" fill="#111" stroke="#111" stroke-width="0.25">25</text>
<line x1="58.6" y1="1007.81" x2="62.1" y2="1007.81" stroke="#000" stroke-width="1.6"/>
<text x="50.8" y="978.3" font-size="16" text-anchor="end" fill="#111" stroke="#111" stroke-width="0.25">30</text>
<line x1="58.6" y1="1331.9" x2="58.6" y2="1328.4" stroke="#000" stroke-width="1.6"/>
<line x1="108.34" y1="1331.9" x2="108.34" y2="1325.4" stroke="#000" stroke-width="1.6"/>
<line x1="108.34" y1="971.8" x2="108.34" y2="964.3" stroke="#000" stroke-width="1.6"/>
<text x="108.34" y="1353.6" font-size="16" text-anchor="middle" fill="#111" stroke="#111" stroke-width="0.25">0. 1</text>
<line x1="158.09" y1="1331.9" x2="158.09" y2="1328.4" stroke="#000" stroke-width="1.6"/>
<line x1="207.83" y1="1331.9" x2="207.83" y2="1325.4" stroke="#000" stroke-width="1.6"/>
<line x1="207.83" y1="971.8" x2="207.83" y2="964.3" stroke="#000" stroke-width="1.6"/>
<text x="207.83" y="1353.6" font-size="16" text-anchor="middle" fill="#111" stroke="#111" stroke-width="0.25">0. 2</text>
<line x1="257.58" y1="1331.9" x2="257.58" y2="1328.4" stroke="#000" stroke-width="1.6"/>
<line x1="307.32" y1="1331.9" x2="307.32" y2="1325.4" stroke="#000" stroke-width="1.6"/>
<line x1="307.32" y1="971.8" x2="307.32" y2="964.3" stroke="#000" stroke-width="1.6"/>
<text x="307.32" y="1353.6" font-size="16" text-anchor="middle" fill="#111" stroke="#111" stroke-width="0.25">0. 3</text>
<line x1="357.07" y1="1331.9" x2="357.07" y2="1328.4" stroke="#000" stroke-width="1.6"/>
<line x1="406.81" y1="1331.9" x2="406.81" y2="1325.4" stroke="#000" stroke-width="1.6"/>
<line x1="406.81" y1="971.8" x2="406.81" y2="964.3" stroke="#000" stroke-width="1.6"/>
<text x="406.81" y="1353.6" font-size="16" text-anchor="middle" fill="#111" stroke="#111" stroke-width="0.25">0. 4</text>
<line x1="456.56" y1="1331.9" x2="456.56" y2="1328.4" stroke="#000" stroke-width="1.6"/>
<line x1="506.3" y1="971.8" x2="506.3" y2="964.3" stroke="#000" stroke-width="1.6"/>
<text x="506.3" y="1353.6" font-size="16" text-anchor="middle" fill="#111" stroke="#111" stroke-width="0.25">0. 5</text>
<text x="282.6" y="1390.8" font-size="30.7" text-anchor="middle" fill="#111">Pressure (MPa)</text>
<text transform="translate(22.6 1152.3) rotate(-90)" font-size="31" text-anchor="middle" fill="#111">AC Breakdown Voltage (kV)</text>
<text x="257" y="1426.9" font-size="27" text-anchor="middle" fill="#111">(c)</text>
</svg>
</body></html>
